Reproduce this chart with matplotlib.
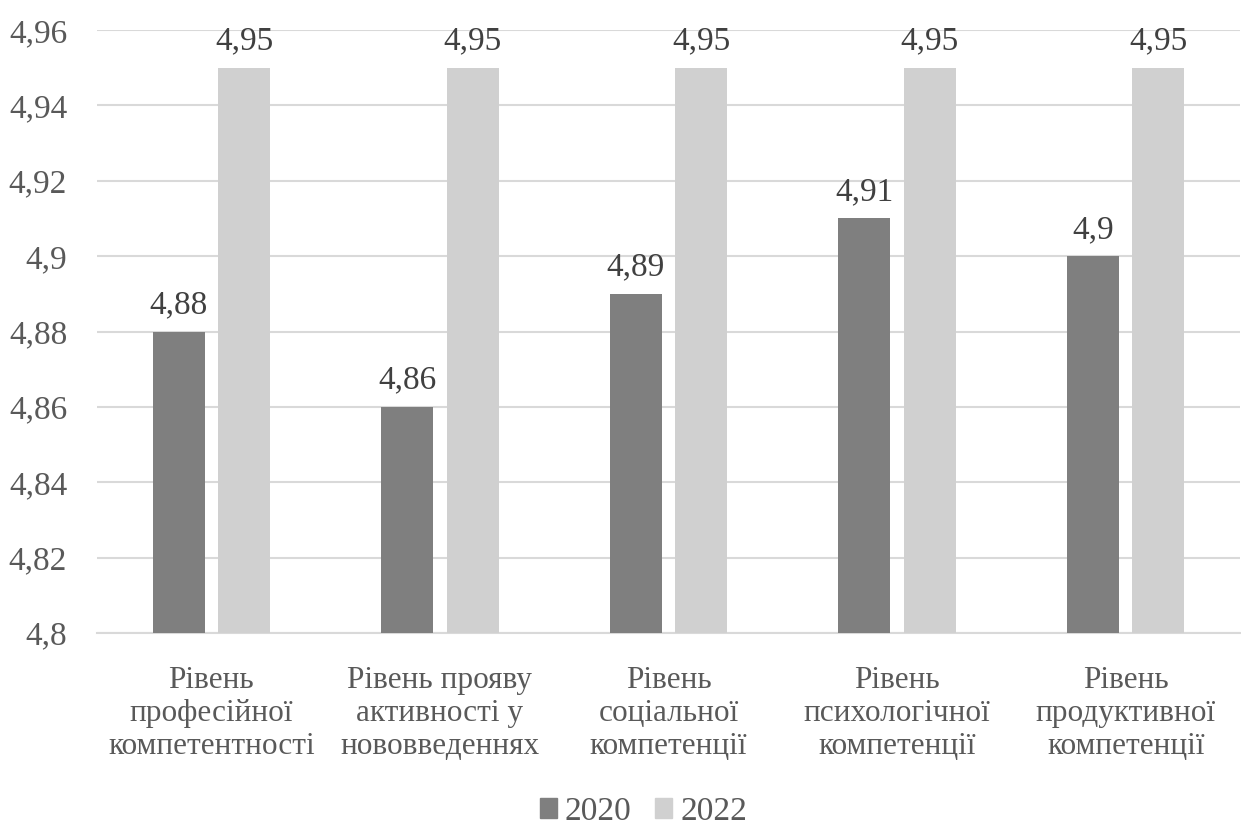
import matplotlib
matplotlib.use("Agg")
import matplotlib.pyplot as plt
from matplotlib.patches import Patch
from matplotlib.font_manager import FontProperties
import numpy as np

categories = [
    "Рівень\nпрофесійної\nкомпетентності",
    "Рівень прояву\nактивності у\nнововведеннях",
    "Рівень\nсоціальної\nкомпетенції",
    "Рівень\nпсихологічної\nкомпетенції",
    "Рівень\nпродуктивної\nкомпетенції",
]
series_names = ["2020", "2022"]
values_2020 = [4.88, 4.86, 4.89, 4.91, 4.90]
values_2022 = [4.95, 4.95, 4.95, 4.95, 4.95]
y_ticks = [4.80, 4.82, 4.84, 4.86, 4.88, 4.90, 4.92, 4.94, 4.96]

colors = ["#7f7f7f", "#d0d0d0"]
text_color = "#595959"
grid_color = "#d9d9d9"

num_font = FontProperties(family="Liberation Serif", size=24)
cat_font = FontProperties(family="Liberation Serif", size=22.5)

def fmt(v):
    s = f"{v:.2f}".rstrip("0").rstrip(".")
    return s.replace(".", ",")

fig = plt.figure(figsize=(12.41, 8.23), dpi=100)
ax = fig.add_axes([0.0782, 0.2309, 0.9210, 0.7326])

x = np.arange(len(categories))
width = 0.228
offset = 0.143

for vals, off, col in [(values_2020, -offset, colors[0]), (values_2022, offset, colors[1])]:
    bars = ax.bar(x + off, np.array(vals) - 4.8, width, bottom=4.8, color=col, zorder=3)
    for b, v in zip(bars, vals):
        ax.text(b.get_x() + b.get_width() / 2, v + 0.003, fmt(v),
                ha="center", va="bottom", fontproperties=num_font, color="#404040", zorder=4)

ax.set_xlim(-0.5, len(categories) - 0.5)
ax.set_ylim(4.8, 4.96)
ax.set_yticks(y_ticks)
ax.set_yticklabels([fmt(t) for t in y_ticks], fontproperties=num_font)
ax.set_xticks(x)
ax.set_xticklabels(categories, fontproperties=cat_font, linespacing=1.19)
ax.tick_params(axis="both", length=0, labelcolor=text_color)
ax.tick_params(axis="y", pad=21.5)
ax.tick_params(axis="x", pad=23.5)
ax.yaxis.grid(True, color=grid_color, linewidth=1.5, zorder=0)
for s in ["top", "right", "left"]:
    ax.spines[s].set_visible(False)
ax.spines["bottom"].set_color(grid_color)
ax.spines["bottom"].set_linewidth(1.5)

handles = [Patch(color=c, label=n) for c, n in zip(colors, series_names)]
fig.legend(handles=handles, loc="center", bbox_to_anchor=(0.5185, 0.014), ncol=2,
           frameon=False, prop=num_font, labelcolor=text_color, borderpad=0.2,
           handlelength=0.52, handleheight=0.52, handletextpad=0.24, columnspacing=0.7)

fig.savefig("out.png", dpi=100, facecolor="white")
